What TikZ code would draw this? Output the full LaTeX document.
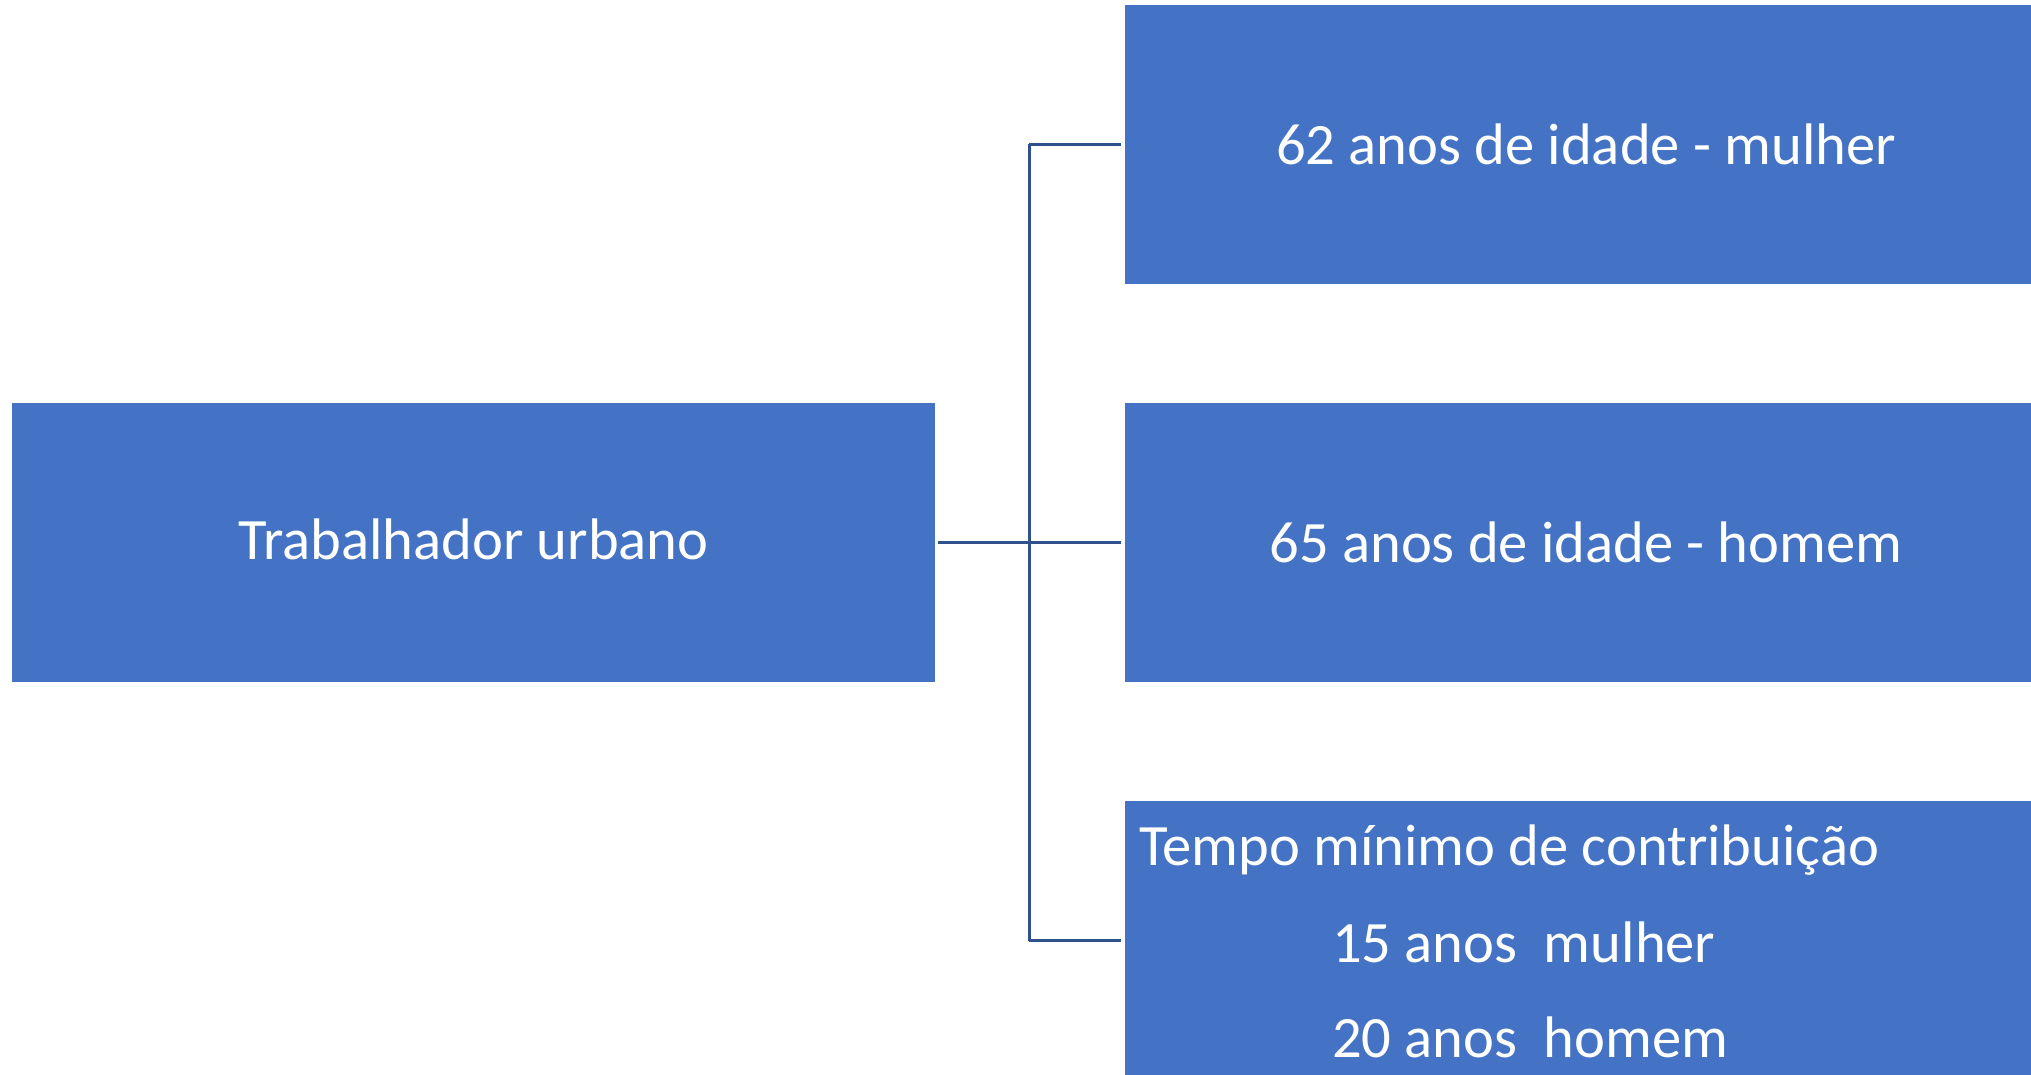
\documentclass[tikz,border=0pt]{standalone}
\usepackage{fontspec}
\setmainfont{Carlito}
\definecolor{boxblue}{HTML}{4472C4}
\definecolor{lineblue}{HTML}{2F528F}
\begin{document}
\begin{tikzpicture}[x=1pt,y=-1pt,
  box/.style={fill=boxblue, draw=none, minimum width=923pt, minimum height=279pt, inner sep=0pt,
    text=white, font=\fontsize{58.6}{70}\selectfont, text height=40pt, text depth=6pt},
  rbox/.style={box, text depth=0pt},
  conn/.style={draw=lineblue, line width=3pt},
  txt/.style={text=white, font=\fontsize{58.6}{70}\selectfont, anchor=base west, inner sep=0pt}]
\useasboundingbox (0,0) rectangle (2031,1075);
\clip (0,0) rectangle (2031,1075);
\node[box] (root) at (473.5,542.5) {Trabalhador urbano};
\node[rbox] (a) at (1586,144.5) {62 anos de idade - mulher};
\node[rbox] (b) at (1586,542.5) {65 anos de idade - homem};
\node[rbox] (c) at (1586,940.5) {};
\node[txt] (c1) at (1139,865) {Tempo mínimo de contribuição};
\node[txt] (c2) at (1332,962) {15 anos\ \ mulher};
\node[txt] (c3) at (1332,1057) {20 anos\ \ homem};
\coordinate (j) at (1029,542.5);
\draw[conn] ([xshift=3pt]root.east) -- ([xshift=-3pt]b.west);
\draw[conn] (j |- a.west) -- ([xshift=-3pt]a.west);
\draw[conn] (j |- c.west) -- ([xshift=-3pt]c.west);
\draw[conn] (j |- a.west) -- (j |- c.west);
\end{tikzpicture}
\end{document}
